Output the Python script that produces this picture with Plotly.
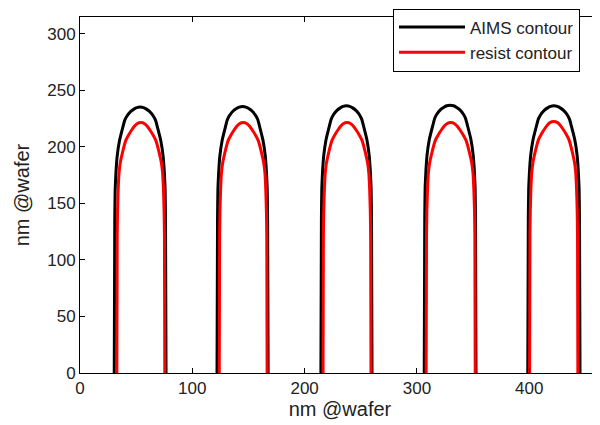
import numpy as np
import plotly.graph_objects as go

# --- data ---
# bottom edges (x at y=0) and peak heights of the five contours
aims_left = [30.5, 122.0, 214.5, 306.5, 398.7]
aims_right = [76.6, 167.5, 260.0, 352.6, 445.2]
aims_peak = [235.3, 235.8, 236.4, 237.0, 236.4]

resist_left = [32.8, 124.0, 216.4, 308.2, 400.3]
resist_right = [75.5, 166.6, 259.1, 351.9, 443.3]
resist_peak = [221.6, 221.6, 221.6, 221.6, 222.5]

# arch profile: depth below peak vs half-width (fraction of bottom half-width)
aims_depth = [0, 0.5, 1.8, 4, 8.3, 12, 18, 30, 44, 58, 73, 100]
aims_frac = [0, 0.13, 0.24, 0.37, 0.52, 0.60, 0.67, 0.80, 0.89, 0.935, 0.965, 0.98]

resist_depth = [0, 1, 3, 6.6, 11, 16, 27, 36, 45, 60, 78, 100]
resist_frac = [0, 0.16, 0.26, 0.38, 0.51, 0.63, 0.77, 0.86, 0.91, 0.945, 0.97, 0.985]

x_ticks = [0, 100, 200, 300, 400]
y_ticks = [0, 50, 100, 150, 200, 250, 300]


def contour(lefts, rights, peaks, depth, frac):
    xs, ys = [], []
    d = np.array(depth, float)
    f = np.array(frac, float)
    for l, r, p in zip(lefts, rights, peaks):
        c = (l + r) / 2.0
        hw = (r - l) / 2.0
        lx = [l] + list(c - hw * f[::-1])
        ly = [0] + list(p - d[::-1])
        rx = list(c + hw * f[1:]) + [r]
        ry = list(p - d[1:]) + [0]
        xs += lx + rx + [None]
        ys += ly + ry + [None]
    return xs, ys


ax, ay = contour(aims_left, aims_right, aims_peak, aims_depth, aims_frac)
rx, ry = contour(resist_left, resist_right, resist_peak, resist_depth, resist_frac)

fig = go.Figure()
fig.add_trace(go.Scatter(x=ax, y=ay, mode="lines", name="AIMS contour",
                         line=dict(color="black", width=3, shape="spline", smoothing=0.4)))
fig.add_trace(go.Scatter(x=rx, y=ry, mode="lines", name="resist contour",
                         line=dict(color="#ff0000", width=3, shape="spline", smoothing=0.4)))

font = dict(family="Liberation Sans, Arial, sans-serif", size=17, color="#222")

# page body has an 8px margin, so the figure is sized to fit the 600x425 window
fig.update_layout(
    width=592, height=417,
    margin=dict(l=72, r=0, t=9, b=52, autoexpand=False),
    paper_bgcolor="white", plot_bgcolor="white",
    font=font,
    showlegend=True,
    legend=dict(x=(385 - 72) / 520, y=(365 - 0.5) / 356, xanchor="left", yanchor="top",
                bgcolor="white", bordercolor="black", borderwidth=1,
                font=dict(family="Liberation Sans, Arial, sans-serif", size=17, color="#222"),
                itemwidth=66, tracegroupgap=0),
    xaxis=dict(range=[0, 463], tickvals=x_ticks, ticks="inside", ticklen=5,
               tickcolor="black", showline=True, linecolor="black", linewidth=1,
               mirror="ticks", showgrid=False, zeroline=False, automargin=False,
               title=dict(text="nm @wafer", standoff=4)),
    yaxis=dict(range=[0, 315], tickvals=y_ticks, ticks="inside", ticklen=5,
               tickcolor="black", showline=True, linecolor="black", linewidth=1,
               mirror=False, showgrid=False, zeroline=False, automargin=False,
               title=dict(text="nm @wafer", standoff=12)),
)

fig.write_html("out.html")
